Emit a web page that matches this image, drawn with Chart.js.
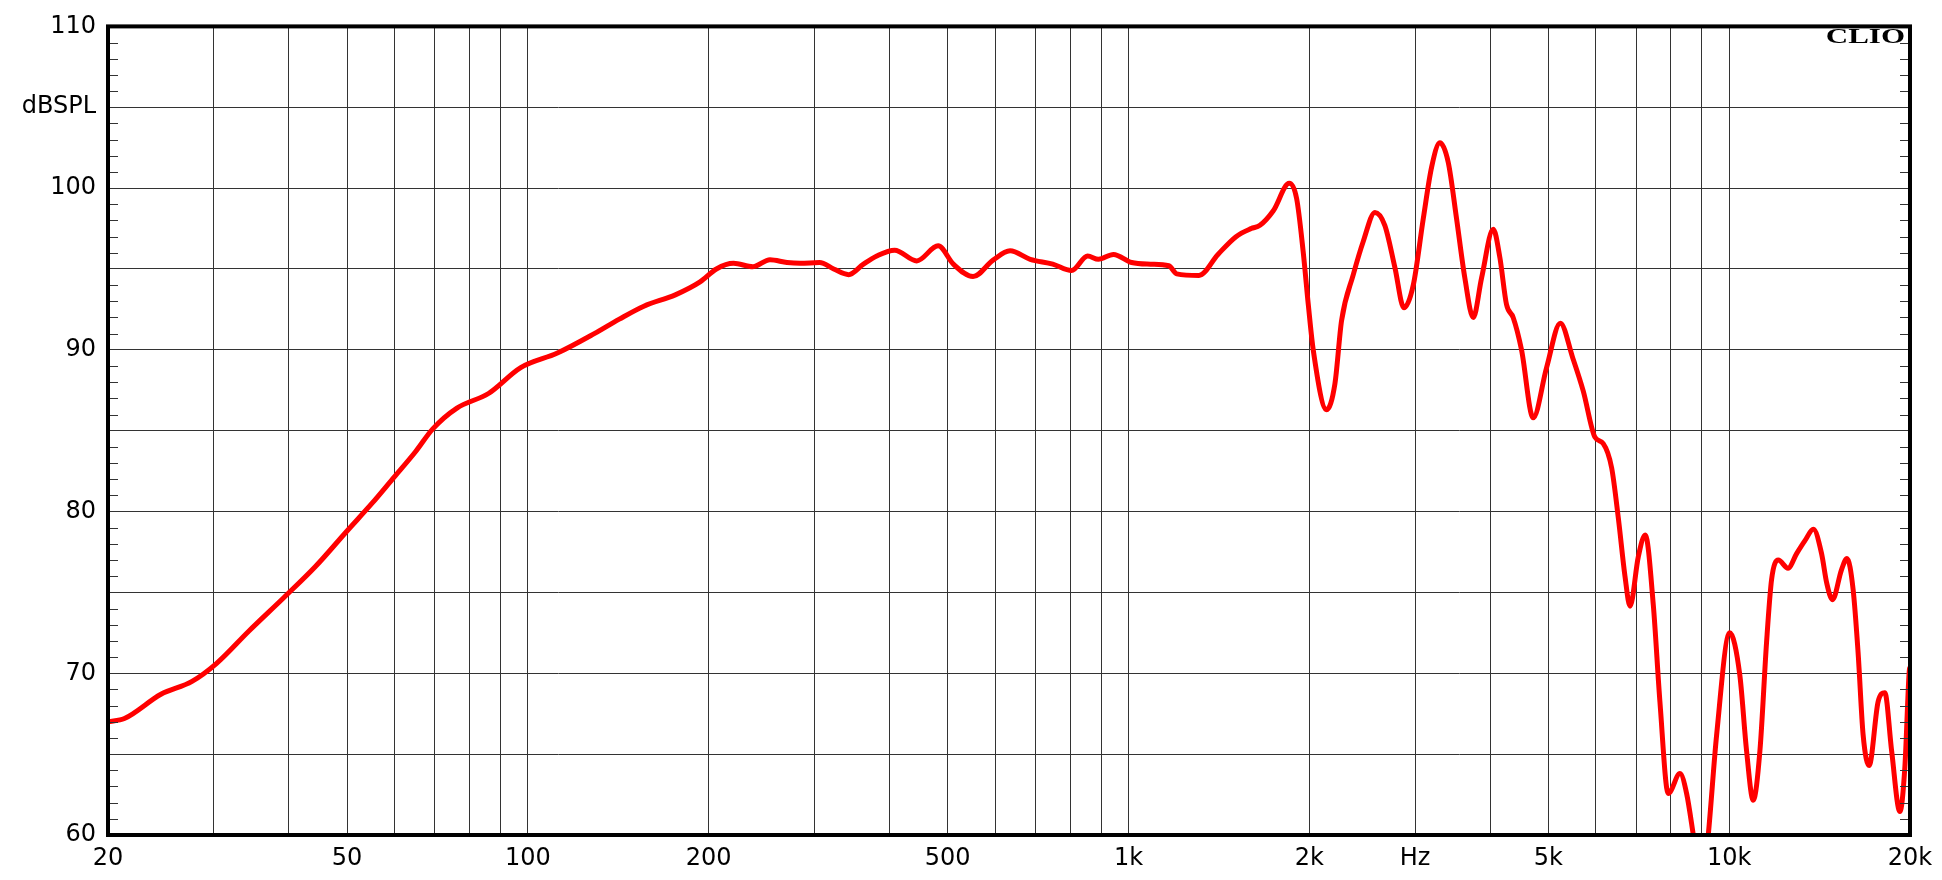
<!DOCTYPE html>
<html>
<head>
<meta charset="utf-8">
<title>CLIO - dBSPL</title>
<script src="https://cdn.jsdelivr.net/npm/chart.js@4.4.1/dist/chart.umd.min.js"></script>
<style>
  html, body { margin: 0; padding: 0; background: #fff; }
</style>
</head>
<body>
<canvas id="spl" width="1942" height="880"></canvas>
<script>
// frequency response (Hz / dB SPL)
var freq = [20, 21.3, 24.5, 27.6, 30.3, 34.3, 39.3, 44.3, 50, 55, 59.8, 65, 69.4, 76.2, 86, 97.3,
  112, 129, 142, 156, 176, 193.5, 206, 220, 237, 253, 270, 284, 306, 323, 342, 362, 381, 408,
  444, 482, 511, 551, 595, 635, 686, 748, 804, 855, 891, 944, 1012, 1088, 1167, 1203, 1310,
  1409, 1510, 1600, 1655, 1742, 1852, 1905, 1953, 1992, 2030, 2137, 2206, 2263, 2367, 2459,
  2572, 2671, 2776, 2874, 2979, 3095, 3196, 3299, 3406, 3517, 3630, 3749, 3871, 4048, 4152,
  4259, 4369, 4511, 4717, 4966, 5235, 5490, 5716, 5977, 6171, 6373, 6538, 6707, 6838, 7058,
  7250, 7477, 7668, 7917, 8281, 8495, 8715, 9000, 9229, 9531, 10020, 10415, 10690, 10965,
  11250, 11540, 11765, 12070, 12530, 12950, 13370, 13810, 14250, 14530, 14860, 15380, 15710,
  16080, 16390, 16710, 17100, 17700, 18160, 18640, 19240, 19610, 19940, 20000];
var spl = [67.0, 67.2, 68.7, 69.5, 70.6, 72.6, 74.7, 76.6, 78.8, 80.5, 82.1, 83.7, 85.1, 86.4, 87.3, 88.9,
  89.8, 91.0, 91.9, 92.7, 93.4, 94.2, 95.0, 95.35, 95.14, 95.57, 95.4, 95.35, 95.4, 95.0, 94.65, 95.3, 95.8, 96.16,
  95.5, 96.43, 95.3, 94.53, 95.55, 96.12, 95.6, 95.3, 94.9, 95.8, 95.6, 95.9, 95.4, 95.3, 95.2, 94.7, 94.6,
  95.9, 97.0, 97.5, 97.7, 98.6, 100.3, 99.35, 96.1, 92.8, 90.0, 86.3, 87.9, 91.8, 94.65, 96.7,
  98.5, 97.7, 95.1, 92.6, 94.0, 98.1, 101.3, 102.8, 101.6, 98.1, 94.45, 92.0, 94.45, 97.45, 95.7,
  92.8, 92.0, 90.0, 85.8, 88.9, 91.65, 89.5, 87.45, 84.6, 84.2, 82.7, 79.6, 76.0, 74.15, 77.2,
  78.55, 74.2, 68.25, 62.56, 63.8, 62.56, 60.0, 56.5, 60.0, 66.2, 72.5, 69.9, 65.2, 62.15,
  65.2, 71.9, 75.8, 77.0, 76.5, 77.4, 78.2, 78.9, 77.4, 75.6, 74.55, 76.4, 77.1,
  75.2, 71.3, 66.2, 64.3, 68.25, 68.8, 65.2, 61.45, 64.2, 70.1, 70.4];

// axis ticks
var gridFreqs = [20, 30, 40, 50, 60, 70, 80, 90, 100, 200, 300, 400, 500, 600, 700, 800, 900,
  1000, 2000, 3000, 4000, 5000, 6000, 7000, 8000, 9000, 10000, 20000];
var labelFreqs = [20, 50, 100, 200, 500, 1000, 2000, 3000, 5000, 10000, 20000];
var labelTexts = ['20', '50', '100', '200', '500', '1k', '2k', 'Hz', '5k', '10k', '20k'];
var dbValues = [60, 70, 80, 90, 100, 105, 110];
var dbTexts = ['60', '70', '80', '90', '100', 'dBSPL', '110'];

var points = [];
for (var i = 0; i < freq.length; i++) {
  points.push({ x: freq[i], y: spl[i] });
}

// frame, 1 dB ticks on both sides and the CLIO mark
var framePlugin = {
  id: 'frame',
  afterDraw: function(chart) {
    var ctx = chart.ctx;
    var a = chart.chartArea;
    var ys = chart.scales.y;
    ctx.save();
    ctx.strokeStyle = '#333';
    ctx.lineWidth = 1;
    ctx.beginPath();
    for (var v = 61; v < 110; v++) {
      if (v % 5 === 0) continue;
      var py = Math.round(ys.getPixelForValue(v)) + 0.5;
      ctx.moveTo(a.left, py);
      ctx.lineTo(a.left + 10, py);
      ctx.moveTo(a.right - 10, py);
      ctx.lineTo(a.right, py);
    }
    ctx.stroke();

    ctx.strokeStyle = '#000';
    ctx.lineWidth = 4;
    ctx.strokeRect(a.left, a.top, a.right - a.left, a.bottom - a.top);

    ctx.translate(a.right - 5, a.top + 17);
    ctx.scale(1.55, 1);
    ctx.fillStyle = '#000';
    ctx.font = 'bold 20px "Liberation Serif"';
    ctx.textAlign = 'right';
    ctx.textBaseline = 'alphabetic';
    ctx.fillText('CLIO', 0, 0);
    ctx.restore();
  }
};

var tickFont = { family: 'DejaVu Sans', size: 24 };

var chartSpl = new Chart(document.getElementById('spl'), {
  type: 'line',
  data: {
    datasets: [{
      label: 'dBSPL',
      data: points,
      borderColor: '#ff0000',
      borderWidth: 5,
      pointRadius: 0,
      fill: false,
      cubicInterpolationMode: 'monotone'
    }]
  },
  options: {
    responsive: false,
    animation: false,
    layout: { padding: { left: 0, top: 16, right: 32, bottom: 0 } },
    plugins: {
      legend: { display: false },
      tooltip: { enabled: false }
    },
    scales: {
      x: {
        type: 'logarithmic',
        min: 20,
        max: 20000,
        afterBuildTicks: function(scale) {
          scale.ticks = gridFreqs.map(function(v) { return { value: v }; });
        },
        afterFit: function(scale) { scale.height = 45; },
        grid: { color: '#333', lineWidth: 1, drawTicks: false },
        border: { display: false },
        ticks: {
          autoSkip: false,
          maxRotation: 0,
          padding: 9,
          color: '#000',
          font: tickFont,
          callback: function(v) {
            var k = labelFreqs.indexOf(v);
            return k < 0 ? '' : labelTexts[k];
          }
        }
      },
      y: {
        min: 60,
        max: 110,
        afterFit: function(scale) { scale.width = 108; },
        grid: { color: '#333', lineWidth: 1, drawTicks: false },
        border: { display: false },
        ticks: {
          stepSize: 5,
          padding: 12,
          color: '#000',
          font: tickFont,
          callback: function(v) {
            var k = dbValues.indexOf(v);
            return k < 0 ? '' : dbTexts[k];
          }
        }
      }
    }
  },
  plugins: [framePlugin]
});
</script>
</body>
</html>
